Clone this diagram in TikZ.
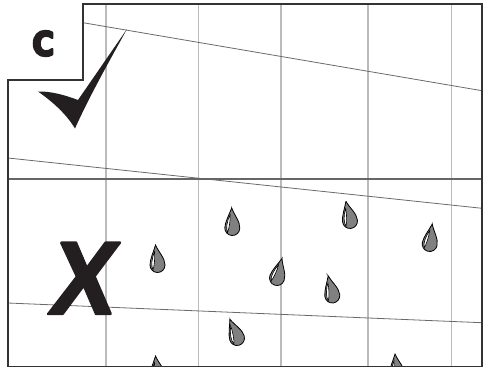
\documentclass[tikz,border=0pt]{standalone}
\usepackage{fontspec}
\newfontfamily\cfont{DejaVu Sans}
\newfontfamily\xfont{Liberation Sans}
\newcommand\heavytext[2]{\special{pdf:literal direct #1 w 1 j 2 Tr}#2\special{pdf:literal direct 0 Tr}}
\definecolor{framec}{HTML}{333333}
\definecolor{gridc}{HTML}{BBBBBB}
\definecolor{slantc}{HTML}{6A6A6A}
\definecolor{midc}{HTML}{666666}
\definecolor{dropgray}{HTML}{808080}
\definecolor{markc}{HTML}{231F20}
\tikzset{
  gridline/.style={draw=gridc, line width=1.1bp},
  slantline/.style={draw=slantc, line width=0.8bp},
  frameline/.style={draw=framec, line width=1.4bp, line join=miter},
  dropline/.style={draw=black, line width=0.8bp},
  drop/.pic={
    \path[dropline, fill=dropgray] (-2,-20) .. controls (1,-13) and (7.5,-7) .. (7.5,0)
      arc[start angle=0, end angle=180, radius=7.5]
      .. controls (-7.5,-6) and (-4,-13) .. cycle;
    \path[dropline, fill=white, line width=0.6bp] (-3,-13) .. controls (-6,-6) and (-6.5,1) .. (-4.5,5)
      .. controls (-3,0) and (-2.5,-7) .. cycle;
  }
}
\begin{document}
\begin{tikzpicture}[x=1bp,y=-1bp]
\useasboundingbox (0,0) rectangle (489,369);
% vertical grid lines
\foreach \gx in {106,198.7,281,368,451.3} {
  \draw[gridline] (\gx,4) -- (\gx,366.7);
}
% slanted lines
\draw[slantline] (83,22.7) -- (482,90.7);
\draw[slantline] (8,158) -- (482,208.3);
\draw[slantline] (8,303) -- (482,322.7);
% middle line
\draw[draw=midc, line width=2bp] (8,179) -- (482,179);
% drops
\begin{scope}
\clip (8,4) rectangle (481,366);
\pic[rotate=0] at (157.5,265) {drop};
\pic[rotate=-4] at (232.3,228) {drop};
\pic[rotate=6] at (350,221) {drop};
\pic[rotate=-13] at (429.7,244) {drop};
\pic[rotate=-20] at (277,278) {drop};
\pic[rotate=6] at (332.3,295.5) {drop};
\pic[rotate=15] at (237,338) {drop};
\pic[rotate=0] at (157.5,376) {drop};
\pic[rotate=0] at (397,374) {drop};
\end{scope}
% frame
\draw[frameline] (83,4) -- (482,4) -- (482,366.7) -- (8,366.7) -- (8,80) -- (83,80) -- cycle;
% check mark
\fill[markc] (127,29) -- (78,100) .. controls (65,95) and (50,91) .. (38,91.5)
  .. controls (50,100) and (65,112) .. (75,128.5)
  .. controls (90,95) and (110,60) .. cycle;
% letters
\node[inner sep=0, text=markc, xscale=0.9, font=\cfont\bfseries\fontsize{33}{33}\selectfont] (lc) at (43.3,43.5) {\heavytext{2.6}{C}};
\node[inner sep=0, text=markc, xscale=0.93, xslant=0.17, font=\xfont\bfseries\fontsize{104}{104}\selectfont] (lx) at (85,278.3) {\heavytext{2.5}{X}};
\end{tikzpicture}
\end{document}
